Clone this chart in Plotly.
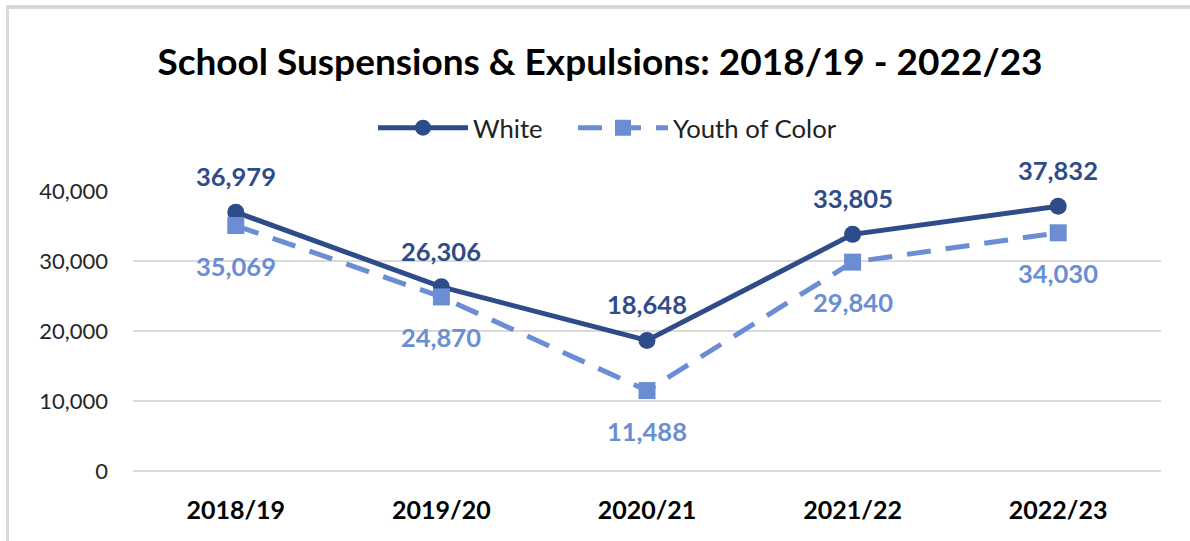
import plotly.graph_objects as go

# School years and counts per group
years = ["2018/19", "2019/20", "2020/21", "2021/22", "2022/23"]
white = [36979, 26306, 18648, 33805, 37832]
youth_of_color = [35069, 24870, 11488, 29840, 34030]
y_ticks = [0, 10000, 20000, 30000, 40000]

WHITE_COLOR = "#2E4C8A"
YOC_COLOR = "#6A8DD3"
GRID = "#D9D9D9"
FONT = "Lato"

W, H = 1190, 541
L, R, T, B = 133, 29, 191, 70

fig = go.Figure()
fig.add_trace(go.Scatter(
    x=years, y=white, name="White", mode="lines+markers",
    line=dict(color=WHITE_COLOR, width=5),
    marker=dict(symbol="circle", size=17, color=WHITE_COLOR),
    legend="legend",
))
fig.add_trace(go.Scatter(
    x=years, y=youth_of_color, name="Youth of Color", mode="lines+markers",
    line=dict(color=YOC_COLOR, width=5, dash="24px,15px"),
    marker=dict(symbol="square", size=17, color=YOC_COLOR),
    legend="legend2",
))

# value labels: White above the points, Youth of Color below
for x, v in zip(years, white):
    fig.add_annotation(x=x, y=v, text=f"{v:,}", showarrow=False, yshift=36,
                       font=dict(family=FONT, size=25.5, color=WHITE_COLOR, weight="bold"))
for x, v in zip(years, youth_of_color):
    fig.add_annotation(x=x, y=v, text=f"{v:,}", showarrow=False, yshift=-40,
                       font=dict(family=FONT, size=25.5, color=YOC_COLOR, weight="bold"))

# thin frame along the top and left edges
pw, ph = W - L - R, H - T - B
def px_x(p):
    return (p - L) / pw
def px_y(p):
    return (H - B - p) / ph
fig.add_shape(type="rect", xref="paper", yref="paper",
              x0=px_x(6), x1=px_x(W + 5), y0=px_y(5), y1=px_y(9),
              fillcolor=GRID, line=dict(width=0), layer="below")
fig.add_shape(type="rect", xref="paper", yref="paper",
              x0=px_x(6), x1=px_x(9), y0=px_y(5), y1=px_y(H + 5),
              fillcolor=GRID, line=dict(width=0), layer="below")

legend_style = dict(orientation="h", xref="container", xanchor="left",
                    y=1 - 128 / H, yref="container", yanchor="middle",
                    font=dict(family=FONT, size=25.7, color="#222222"),
                    itemwidth=90, bgcolor="rgba(0,0,0,0)")

fig.update_layout(
    width=W, height=H,
    margin=dict(l=L, r=R, t=T, b=B),
    paper_bgcolor="white", plot_bgcolor="white",
    title=dict(text="<b>School Suspensions &amp; Expulsions: 2018/19 - 2022/23</b>",
               x=600 / W, xref="container", xanchor="center", y=1 - 62 / H, yanchor="middle",
               font=dict(family=FONT, size=37, color="#000000")),
    legend=dict(x=373 / W, **legend_style),
    legend2=dict(x=573 / W, **legend_style),
    showlegend=True,
    xaxis=dict(type="category", range=[-0.5, 4.5], showgrid=False, showline=False,
               zeroline=False, ticks="", ticklabelstandoff=22,
               tickfont=dict(family=FONT, size=25, color="#000000", weight="bold")),
    yaxis=dict(range=[0, 40000], tickvals=y_ticks, tickformat=",",
               showgrid=True, gridcolor=GRID, gridwidth=2,
               zeroline=True, zerolinecolor=GRID, zerolinewidth=2,
               showline=False, ticks="", ticklabelstandoff=24,
               tickfont=dict(family=FONT, size=22, color="#262626")),
)

fig.write_html("out.html")
